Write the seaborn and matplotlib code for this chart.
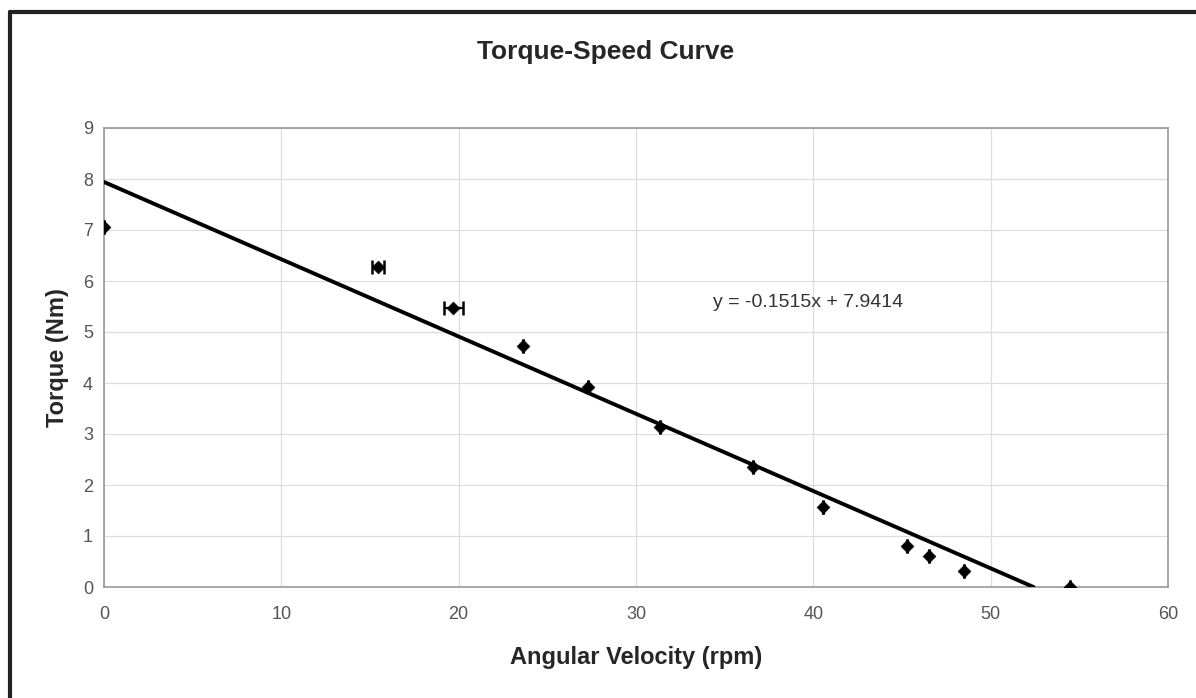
import numpy as np
import pandas as pd
import matplotlib.pyplot as plt
import seaborn as sb
from matplotlib.lines import Line2D

# data
speed = [0.0, 15.45, 19.7, 23.65, 27.3, 31.35, 36.6, 40.55, 45.3, 46.55, 48.5, 54.5]
torque = [7.05, 6.27, 5.48, 4.73, 3.92, 3.14, 2.36, 1.56, 0.80, 0.61, 0.32, 0.0]
speed_err = [0, 0.35, 0.55, 0, 0, 0, 0, 0, 0, 0, 0, 0]
torque_err = [0.05, 0.06, 0.06, 0.12, 0.12, 0.12, 0.12, 0.12, 0.12, 0.12, 0.12, 0.05]
slope = -0.1515
intercept = 7.9414

df = pd.DataFrame({"speed": speed, "torque": torque})

sb.set_style("white")
plt.rcParams["font.family"] = ["Liberation Sans", "DejaVu Sans"]

fig = plt.figure(figsize=(11.96, 6.98), dpi=100)
ax = fig.add_axes([104 / 1196, 1 - 587 / 698, (1168 - 104) / 1196, (587 - 128) / 698])

# trendline
x_end = -intercept / slope
line_df = pd.DataFrame({"speed": [0, x_end], "torque": [intercept, intercept + slope * x_end]})
sb.lineplot(data=line_df, x="speed", y="torque", color="black", linewidth=2.8, ax=ax, zorder=4)

# error bars and points
ax.errorbar(speed, torque, yerr=torque_err, fmt="none", ecolor="black",
            elinewidth=2.2, capsize=0, zorder=5)
ax.errorbar(speed, torque, xerr=speed_err, fmt="none", ecolor="black",
            elinewidth=1.6, capsize=5, capthick=1.8, zorder=5)
sb.scatterplot(data=df, x="speed", y="torque", marker="D", s=42, color="black",
               edgecolor="black", ax=ax, zorder=6)

ax.set_xlim(0, 60)
ax.set_ylim(0, 9)
ax.set_xticks(range(0, 61, 10))
ax.set_yticks(range(0, 10))
ax.grid(True, color="#dddddd", linewidth=0.9)
for s in ax.spines.values():
    s.set_color("#999999")
    s.set_linewidth(1.2)
ax.tick_params(axis="both", labelsize=13, colors="#555555", length=0)
ax.tick_params(axis="x", pad=14)
ax.tick_params(axis="y", pad=8)

ax.set_xlabel("Angular Velocity (rpm)", fontsize=17, fontweight="bold", labelpad=16)
ax.set_ylabel("Torque (Nm)", fontsize=17, fontweight="bold", labelpad=10)
fig.text(606 / 1196, 1 - 52 / 698, "Torque-Speed Curve", ha="center", va="center",
         fontsize=19, fontweight="bold")
ax.text(39.7, 5.57, "y = -0.1515x + 7.9414", ha="center", va="center", fontsize=14,
        color="#333333", zorder=7)

# outer frame (left and top edges visible)
fig.add_artist(Line2D([10 / 1196, 10 / 1196], [0, 1 - 12 / 698], transform=fig.transFigure,
                      color="#222222", linewidth=3))
fig.add_artist(Line2D([10 / 1196, 1], [1 - 12 / 698, 1 - 12 / 698], transform=fig.transFigure,
                      color="#222222", linewidth=3))

fig.savefig("out.png", dpi=100)
